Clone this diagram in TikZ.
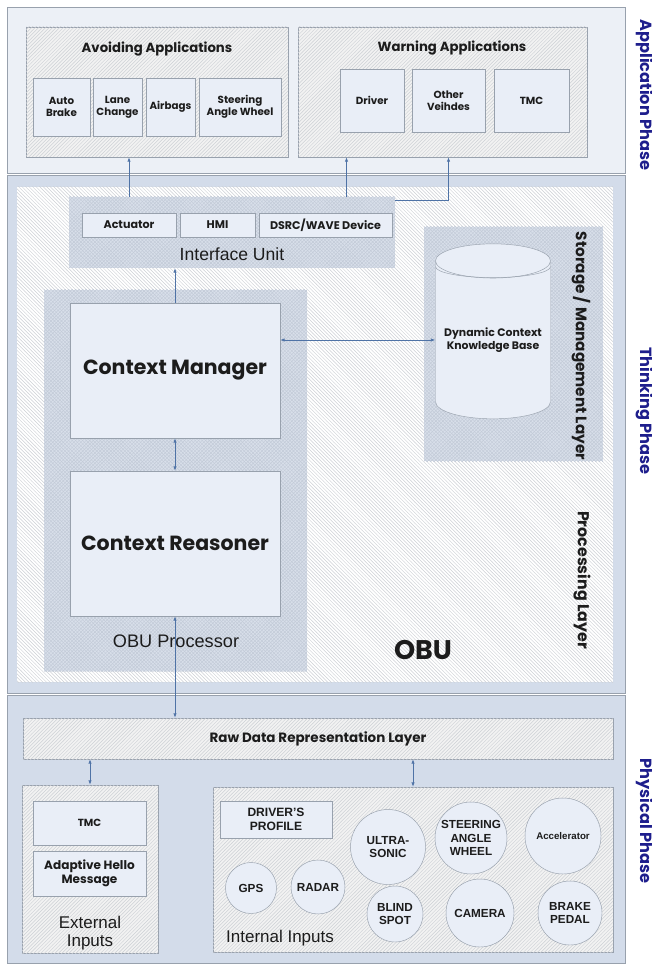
\documentclass[tikz,border=0pt]{standalone}
\usepackage{fontspec}
\setmainfont{Liberation Sans}
\newfontfamily\geo{Poppins}
\usetikzlibrary{arrows.meta, positioning, fit, calc, shapes.geometric, patterns}
\definecolor{obuBand}{HTML}{D3DCEA}
\definecolor{obuPale}{HTML}{ECF0F6}
\definecolor{obuBox}{HTML}{E9EEF7}
\definecolor{obuEdge}{HTML}{98A1AD}
\definecolor{obuHatch}{HTML}{CDD0D5}
\definecolor{obuCross}{HTML}{D8DFEA}
\definecolor{obuGrid}{HTML}{C3CBD8}
\definecolor{obuArrow}{HTML}{4F73A6}
\definecolor{obuNavy}{HTML}{1E1E8C}
\definecolor{obuInk}{HTML}{1C1C1C}

\begin{document}
\begin{tikzpicture}[
  x=0.3mm, y=-0.3mm, text=obuInk,
  sz/.style 2 args={minimum width=#1*0.3mm, minimum height=#2*0.3mm},
  phase/.style={draw=obuEdge, fill=obuBand, line width=0.6pt, inner sep=0pt},
  hatch/.style={draw=obuEdge, fill=white!95!black, inner sep=0pt,
                postaction={pattern=north east lines, pattern color=obuHatch}},
  cross/.style={fill=obuCross, inner sep=0pt,
                postaction={pattern=crosshatch, pattern color=obuGrid}},
  item/.style={draw=obuEdge, fill=obuBox, inner sep=0pt, align=center,
               font=\geo\bfseries\fontsize{8.8}{10}\selectfont},
  core/.style={draw=obuEdge, fill=obuBox, inner sep=0pt,
               font=\geo\bfseries\fontsize{17.5}{20}\selectfont},
  sensor/.style={circle, draw=obuEdge, fill=obuBox, inner sep=0pt, align=center,
                 font=\bfseries\fontsize{10}{11.5}\selectfont},
  ttl/.style={font=\geo\bfseries\fontsize{11.3}{13}\selectfont},
  tag/.style={font=\fontsize{14.5}{16}\selectfont, align=center},
  side/.style={rotate=-90, font=\geo\bfseries\fontsize{13}{15}\selectfont},
  phasetag/.style={rotate=-90, text=obuNavy, font=\geo\bfseries\fontsize{13.8}{16}\selectfont},
  ar/.style={-{Latex[length=1.3mm, width=1mm]}, draw=obuArrow, line width=0.6pt},
  dar/.style={{Latex[length=1.3mm, width=1mm]}-{Latex[length=1.3mm, width=1mm]},
              draw=obuArrow, line width=0.6pt}
]
\useasboundingbox (0,0) rectangle (651,966);

% application phase
\node[phase, fill=obuPale, fit={(7,7) (625,173)}] (app) {};
\node[hatch, fit={(26,27) (288,157)}] (avoid) {};
\node[ttl] (avoidT) at (157,49) {Avoiding Applications};
\node[item, sz={57}{58}] (abrk) at (61.5,107) {Auto\\Brake};
\node[item, sz={49}{58}] (lane) at (117.5,107) {Lane\\Change};
\node[item, sz={49}{58}] (bag) at (170.5,107) {Airbags};
\node[item, sz={82}{58}] (saw) at (240,107) {Steering\\Angle Wheel};

\node[hatch, fit={(298,27) (587,157)}] (warn) {};
\node[ttl] (warnT) at (452,48) {Warning Applications};
\node[item, sz={64}{63}] (drv) at (372,100.5) {Driver};
\node[item, sz={73}{63}] (oth) at (448.5,100.5) {Other\\Veihdes};
\node[item, sz={75}{63}] (tmcA) at (531.5,100.5) {TMC};

\node[phasetag] (appP) at (645,95) {Application Phase};

% thinking phase: the OBU
\node[phase, fit={(7,175) (625,693)}] (obu) {};
\node[fill=white, inner sep=0pt, fit={(17,187) (613,682)},
      postaction={pattern=north west lines, pattern color=obuHatch}] (obuIn) {};

\node[cross, fit={(69,197) (395,268)}] (iface) {};
\node[item, sz={94}{24}, font=\geo\bfseries\fontsize{9.5}{11}\selectfont] (act) at (129,225) {Actuator};
\node[item, sz={75}{24}, font=\geo\bfseries\fontsize{9.5}{11}\selectfont] (hmi) at (217.5,225) {HMI};
\node[item, sz={133}{24}, font=\geo\bfseries\fontsize{9.5}{11}\selectfont] (dsrc) at (325.5,225) {DSRC/WAVE Device};
\node[tag, font=\fontsize{15}{17}\selectfont] (ifaceT) at (232,254) {Interface Unit};

\node[cross, fit={(424,227) (603,461)}] (store) {};
\node[side] (storeT) at (581,346) {Storage / Management Layer};
\node[cylinder, shape border rotate=90, aspect=0.35, draw=obuEdge, fill=obuBox,
      cylinder uses custom fill, cylinder body fill=obuBox, cylinder end fill=obuBox,
      minimum width=115*0.3mm, minimum height=175*0.3mm, inner sep=0pt, align=center,
      font=\geo\bfseries\fontsize{9.3}{11}\selectfont] (kb) at (493,340)
      {Dynamic Context\\Knowledge Base};
% lip under the lid
\draw[obuEdge] ($(kb.north)+(-57.5,23)$) arc[start angle=180, end angle=360,
      x radius=17.25mm, y radius=3.3mm];

\node[cross, fit={(44,290) (307,671)}] (proc) {};
\node[core, sz={210}{135}] (cm) at (175,370.5) {Context Manager};
\node[core, sz={210}{145}] (cr) at (175,543.5) {Context Reasoner};
\node[tag, font=\fontsize{15.5}{17}\selectfont] (procT) at (176,641) {OBU Processor};

\node[side, font=\geo\bfseries\fontsize{13.5}{15}\selectfont] (layT) at (582,580) {Processing Layer};
\node[font=\geo\bfseries\fontsize{23}{26}\selectfont] (obuT) at (423,650) {OBU};

\node[phasetag] (thkP) at (645,411) {Thinking Phase};

% physical phase
\node[phase, fit={(7,695) (625,963)}] (phy) {};
\node[hatch, sz={590}{41}, font=\geo\bfseries\fontsize{11.5}{13}\selectfont] (raw) at (318,738.5)
      {Raw Data Representation Layer};

\node[hatch, fit={(22,785) (158,953)}] (ext) {};
\node[item, sz={113}{44}] (tmcB) at (89.5,823) {TMC};
\node[item, sz={113}{45}, font=\geo\bfseries\fontsize{10.3}{12}\selectfont] (hello) at (89.5,873.5) {Adaptive Hello\\Message};
\node[tag] (extT) at (90,933) {External\\Inputs};

\node[hatch, fit={(213,787) (613,952)}] (int) {};
\node[item, sz={112}{37}, font=\bfseries\fontsize{10.3}{12}\selectfont] (prof) at (276,819.5) {DRIVER'S\\PROFILE};
\node[sensor, minimum size=51*0.3mm] (gps) at (251,888) {GPS};
\node[sensor, minimum size=54*0.3mm] (radar) at (318,887) {RADAR};
\node[sensor, minimum size=75*0.3mm] (sonic) at (388,847) {ULTRA-\\SONIC};
\node[sensor, minimum size=72*0.3mm] (steer) at (471,838) {STEERING\\ANGLE\\WHEEL};
\node[sensor, minimum size=76*0.3mm, font=\bfseries\fontsize{8.3}{10}\selectfont] (acc) at (563,836) {Accelerator};
\node[sensor, minimum size=56*0.3mm] (blind) at (395,914) {BLIND\\SPOT};
\node[sensor, minimum size=68*0.3mm] (cam) at (480,913) {CAMERA};
\node[sensor, minimum size=64*0.3mm] (brake) at (570,913) {BRAKE\\PEDAL};
\node[tag] (intT) at (280,938) {Internal Inputs};

\node[phasetag] (phyP) at (645,821) {Physical Phase};

% data flow
\draw[ar] (act.north |- iface.north) -- (act.north |- avoid.south);
\draw[ar] ([xshift=6.3mm]dsrc.north |- iface.north) -- ([xshift=6.3mm]dsrc.north |- warn.south);
\draw[ar] ([yshift=-1.2mm]iface.north east) -| (oth.south |- warn.south);
\draw[ar] (cm.north) -- (cm.north |- iface.south);
\draw[dar] (cm) -- (cr);
\draw[dar] (kb.west -| cm.east) -- (kb.west);
\draw[dar] (cr.south) -- (cr.south |- raw.north);
\draw[dar] (ext.north |- raw.south) -- (ext.north);
\draw[dar] (int.north |- raw.south) -- (int.north);
\end{tikzpicture}
\end{document}
